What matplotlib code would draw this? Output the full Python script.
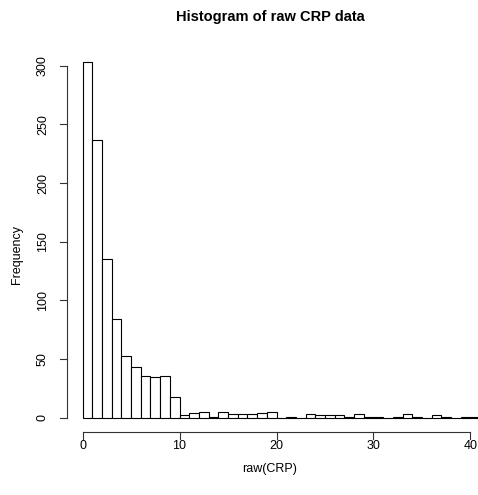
import numpy as np
import matplotlib
matplotlib.use("Agg")
import matplotlib.pyplot as plt

plt.rcParams['font.family'] = ['Liberation Sans', 'DejaVu Sans']

# counts per unit-wide bin of raw CRP, bins start at 0
bin_left = np.arange(0, 41)
counts = [303, 237, 135, 84, 53, 43, 36, 35, 36, 18,
          2, 4, 5, 1, 5, 3, 3, 3, 4, 5,
          0, 1, 0, 3, 2, 2, 2, 1, 3, 1,
          1, 0, 1, 3, 1, 0, 2, 1, 0, 1,
          1]
x_ticks = [0, 10, 20, 30, 40]
y_ticks = [0, 50, 100, 150, 200, 250, 300]

W, H = 478, 495
fig = plt.figure(figsize=(W / 100, H / 100), dpi=100)
# plot region in pixels: left 67, right 486, top 48, bottom 432
ax = fig.add_axes([67 / W, 1 - 432 / H, 419 / W, 384 / H])

ax.bar(bin_left, counts, width=1, align='edge', color='white',
       edgecolor='black', linewidth=0.8)

ax.set_xlim(-1.6, 41.6)
ax.set_ylim(-0.04 * 303, 1.04 * 303)

for s in ax.spines.values():
    s.set_visible(False)
ax.set_xticks([])
ax.set_yticks([])

lw = 0.8
tick = 7  # px
# x axis (R style, line only spans the ticks)
xa = fig.add_axes(ax.get_position(), frameon=False)
xa.set_xlim(ax.get_xlim())
xa.set_ylim(ax.get_ylim())
xa.set_xticks([])
xa.set_yticks([])
xa.plot([x_ticks[0], x_ticks[-1]], [ax.get_ylim()[0]] * 2, color='#333333',
        lw=lw, clip_on=False, transform=xa.transData)

from matplotlib.transforms import blended_transform_factory, offset_copy
bx = blended_transform_factory(xa.transData, xa.transAxes)
by = blended_transform_factory(xa.transAxes, xa.transData)
for t in x_ticks:
    xa.plot([t, t], [0, -tick / 384], color='#333333', lw=lw,
            transform=bx, clip_on=False)
    xa.text(t, -14 / 384, str(t), transform=bx, ha='center', va='center',
            fontsize=9)
xa.plot([0, 0], [y_ticks[0], y_ticks[-1]], color='#333333', lw=lw,
        transform=by, clip_on=False)
for t in y_ticks:
    xa.plot([0, -tick / 419], [t, t], color='#333333', lw=lw,
            transform=by, clip_on=False)
    xa.text(-24 / 419, t, str(t), transform=by, ha='center', va='center',
            rotation=90, fontsize=9)

fig.text(270 / W, 1 - 17 / H, 'Histogram of raw CRP data', ha='center',
         va='center', fontsize=10.5, fontweight='bold')
fig.text(270 / W, 1 - 469 / H, 'raw(CRP)', ha='center', va='center',
         fontsize=9)
fig.text(17 / W, 1 - 255 / H, 'Frequency', ha='center', va='center',
         rotation=90, fontsize=9)

fig.savefig('out.png', dpi=100)
